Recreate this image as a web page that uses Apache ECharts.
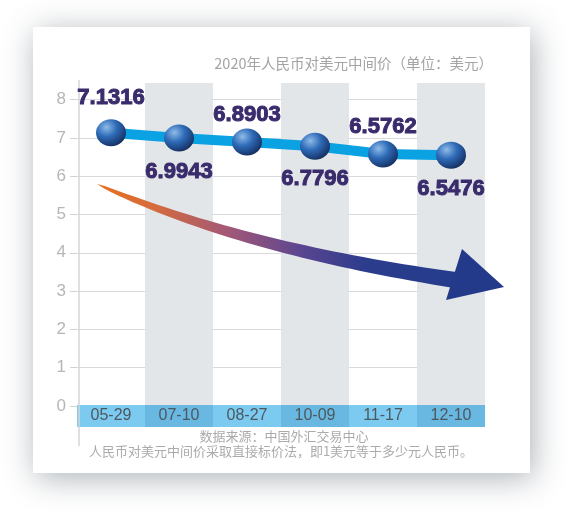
<!DOCTYPE html>
<html>
<head>
<meta charset="utf-8">
<script src="https://cdn.jsdelivr.net/npm/echarts@6/dist/echarts.min.js"></script>
<style>
  html, body { margin: 0; padding: 0; background: #ffffff; }
  #chart { width: 580px; height: 510px; }
</style>
</head>
<body>
<div id="chart"></div>
<script>
// data
const dates = ["05-29", "07-10", "08-27", "10-09", "11-17", "12-10"];
const rates = [7.1316, 6.9943, 6.8903, 6.7796, 6.5762, 6.5476];
const yTicks = [0, 1, 2, 3, 4, 5, 6, 7, 8];

// label placement (style only)
const labelSide = ["top", "bottom", "top", "bottom", "top", "bottom"];
const labelGap = [10, 9, 3, 8, 3, 9];

const chart = echarts.init(document.getElementById("chart"));

// decorative trend arrow: tapered curve + head
const P0 = [97, 184], P1 = [240, 248], P2 = [455, 280];
const bez = (t, a, b, c) => (1 - t) * (1 - t) * a + 2 * (1 - t) * t * b + t * t * c;
const upper = [], lower = [];
for (let i = 0; i <= 40; i++) {
  const t = i / 40;
  const x = bez(t, P0[0], P1[0], P2[0]);
  const y = bez(t, P0[1], P1[1], P2[1]);
  const dx = 2 * (1 - t) * (P1[0] - P0[0]) + 2 * t * (P2[0] - P1[0]);
  const dy = 2 * (1 - t) * (P1[1] - P0[1]) + 2 * t * (P2[1] - P1[1]);
  const len = Math.sqrt(dx * dx + dy * dy);
  const w = 16 * Math.sqrt(t) / 2;
  upper.push([x + (dy / len) * w, y - (dx / len) * w]);
  lower.push([x - (dy / len) * w, y + (dx / len) * w]);
}
const shaft = upper.concat(lower.reverse());

const arrowFill = {
  type: "linear", x: 97, y: 0, x2: 470, y2: 0, global: true,
  colorStops: [
    { offset: 0, color: "#e8721f" },
    { offset: 0.15, color: "#d66b3c" },
    { offset: 0.35, color: "#a35877" },
    { offset: 0.55, color: "#5a4590" },
    { offset: 0.72, color: "#2c3c8c" },
    { offset: 1, color: "#233c8c" }
  ]
};

const sphere = {
  type: "radial", x: 0.35, y: 0.3, r: 0.85,
  colorStops: [
    { offset: 0, color: "#8fbbe8" },
    { offset: 0.4, color: "#2f6cb8" },
    { offset: 0.75, color: "#1b3f7a" },
    { offset: 1, color: "#141c38" }
  ]
};

const option = {
  backgroundColor: "#ffffff",
  animation: false,
  graphic: [
    {
      type: "rect", z: -10,
      shape: { x: 33, y: 27, width: 497, height: 446 },
      style: {
        fill: "#ffffff",
        shadowBlur: 30, shadowColor: "rgba(70,85,95,0.45)",
        shadowOffsetX: 3, shadowOffsetY: 5
      }
    },
    {
      type: "line", z: 1,
      shape: { x1: 79, y1: 80, x2: 79, y2: 446 },
      style: { stroke: "#d3d7d9", lineWidth: 1.5 }
    },
    {
      type: "polygon", z: 3,
      shape: { points: shaft },
      style: { fill: arrowFill }
    },
    {
      type: "polygon", z: 3,
      shape: { points: [[462, 249], [504, 287], [446, 300]] },
      style: { fill: "#233a8a" }
    },
    {
      type: "text", z: 5,
      style: {
        x: 493, y: 63, text: "2020年人民币对美元中间价（单位：美元）",
        fill: "#a4a4a4", font: '14.5px "Noto Sans CJK SC"',
        align: "right", verticalAlign: "middle"
      }
    },
    {
      type: "text", z: 5,
      style: {
        x: 284, y: 436, text: "数据来源：中国外汇交易中心",
        fill: "#ababab", font: '13px "Noto Sans CJK SC"',
        align: "center", verticalAlign: "middle"
      }
    },
    {
      type: "text", z: 5,
      style: {
        x: 281, y: 451, text: "人民币对美元中间价采取直接标价法，即1美元等于多少元人民币。",
        fill: "#ababab", font: '13px "Noto Sans CJK SC"',
        align: "center", verticalAlign: "middle"
      }
    }
  ],
  grid: [
    { left: 77, right: 95, top: 83, bottom: 104 },
    { left: 77, right: 95, top: 99.5, bottom: 104 }
  ],
  xAxis: [
    {
      type: "category", gridIndex: 0, data: dates,
      axisLine: { show: false }, axisTick: { show: false }, axisLabel: { show: false },
      splitArea: { show: true, areaStyle: { color: ["rgba(255,255,255,0)", "#e2e6e8"] } }
    },
    {
      type: "category", gridIndex: 1, data: dates,
      axisLine: { show: false }, axisTick: { show: false },
      axisLabel: {
        interval: 0, margin: -1,
        formatter: (v, i) => (i % 2 ? "{d|" + v + "}" : "{l|" + v + "}"),
        rich: {
          l: { backgroundColor: "#7dcaf0", width: 68, height: 22, lineHeight: 22, align: "center",
               color: "#4c5860", fontSize: 16, fontFamily: "Liberation Sans" },
          d: { backgroundColor: "#69b8e1", width: 68, height: 22, lineHeight: 22, align: "center",
               color: "#4c5860", fontSize: 16, fontFamily: "Liberation Sans" }
        }
      }
    }
  ],
  yAxis: [
    { type: "value", gridIndex: 0, show: false, min: 0, max: 1 },
    {
      type: "value", gridIndex: 1,
      min: yTicks[0], max: yTicks[yTicks.length - 1], interval: 1,
      axisLine: { show: false },
      axisTick: { show: true, length: 7, lineStyle: { color: "#cfd3d5" } },
      axisLabel: { color: "#b6b6b6", fontSize: 17, margin: 11, fontFamily: "Liberation Sans" },
      splitLine: { lineStyle: { color: "#d6dadc", width: 1 } }
    }
  ],
  series: [
    {
      type: "line", xAxisIndex: 1, yAxisIndex: 1, z: 6,
      data: rates.map((v, i) => ({
        value: v,
        label: { position: labelSide[i], distance: labelGap[i] }
      })),
      lineStyle: { color: "#0aa2e2", width: 10 },
      symbol: "circle", symbolSize: [30, 27],
      itemStyle: { color: sphere },
      label: {
        show: true,
        formatter: (p) => p.value.toFixed(4),
        color: "#3a2b6c", fontSize: 22, fontWeight: "bold",
        fontFamily: "Liberation Sans",
        textBorderColor: "#3a2b6c", textBorderWidth: 1
      }
    }
  ]
};

chart.setOption(option);
window.addEventListener("resize", () => chart.resize());
</script>
</body>
</html>
